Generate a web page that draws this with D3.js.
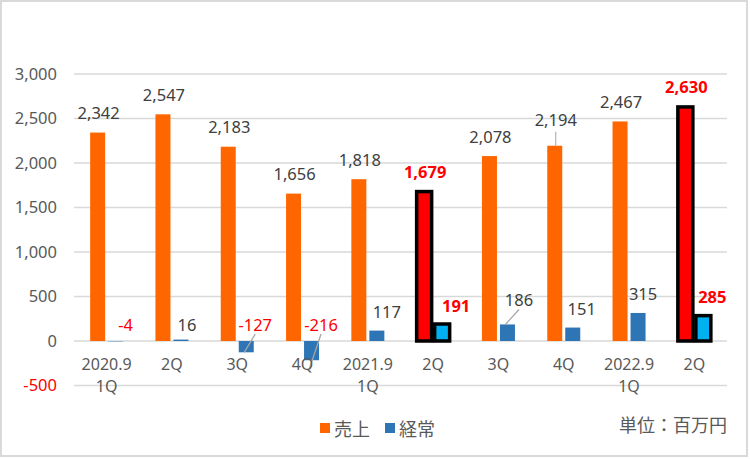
<!DOCTYPE html>
<html><head><meta charset="utf-8">
<script src="https://cdn.jsdelivr.net/npm/d3@7"></script>
<style>body{margin:0;background:#fff}svg{display:block}text{font-family:"Noto Sans","Noto Sans CJK JP",sans-serif}</style>
</head><body>
<svg id="c" width="750" height="459"></svg>
<script>
const categories = ["2020.9|1Q","2Q","3Q","4Q","2021.9|1Q","2Q","3Q","4Q","2022.9|1Q","2Q"];
const sales = [2342,2547,2183,1656,1818,1679,2078,2194,2467,2630];
const ordinary = [-4,16,-127,-216,117,191,186,151,315,285];
const highlight = [false,false,false,false,false,true,false,false,false,true];
const yTicks = [-500,0,500,1000,1500,2000,2500,3000];
const seriesNames = ["売上","経常"];

const fmt = v => d3.format(",")(v).replace("\u2212","-");
const FS = 16.5;

const svg = d3.select("#c");
svg.append("rect").attr("x",1).attr("y",1).attr("width",746).attr("height",455)
  .attr("fill","#fff").attr("stroke","#d9d9d9").attr("stroke-width",2);

const x = d3.scaleBand().domain(d3.range(categories.length)).range([74,727]);
const y = d3.scaleLinear().domain([-500,3000]).range([385.5,74]);

// grid
svg.append("g").selectAll("line").data(yTicks).join("line")
  .attr("x1",74).attr("x2",727).attr("y1",d=>y(d)).attr("y2",d=>y(d))
  .attr("stroke","#d9d9d9").attr("stroke-width",1.5);

// y labels
const yAxis = d3.axisLeft(y).tickValues(yTicks).tickFormat(fmt).tickSize(0).tickPadding(0);
const ya = svg.append("g").attr("transform","translate(57,0)").call(yAxis);
ya.select(".domain").remove();
ya.selectAll("text").attr("font-size",FS).attr("fill",d=>d<0?"#ff0000":"#595959")
  .style("font-family",'"Noto Sans",sans-serif');

const bw = 15, off = 9;
const cx = i => x(i) + x.bandwidth()/2;

// sales bars
svg.append("g").selectAll("rect").data(sales).join("rect")
  .attr("x",(d,i)=>cx(i)-off-bw/2).attr("width",bw)
  .attr("y",d=>y(d)).attr("height",d=>y(0)-y(d))
  .attr("fill",(d,i)=>highlight[i]?"#ff0000":"#ff6600")
  .attr("stroke",(d,i)=>highlight[i]?"#000":"none").attr("stroke-width",3.5);

// ordinary bars
svg.append("g").selectAll("rect").data(ordinary).join("rect")
  .attr("x",(d,i)=>cx(i)+off-bw/2).attr("width",bw)
  .attr("y",d=>y(Math.max(0,d))).attr("height",d=>Math.abs(y(0)-y(d)))
  .attr("fill",(d,i)=>highlight[i]?"#00b0f0":"#2e75b6")
  .attr("stroke",(d,i)=>highlight[i]?"#000":"none").attr("stroke-width",3.5);

// sales labels
svg.append("g").selectAll("text").data(sales).join("text")
  .attr("x",(d,i)=>cx(i)-off+1).attr("y",(d,i)=>y(d)-(i===7?26:20))
  .attr("text-anchor","middle").attr("dominant-baseline","central")
  .attr("font-size",FS).attr("font-weight",(d,i)=>highlight[i]?"bold":"normal")
  .attr("fill",(d,i)=>highlight[i]?"#ff0000":"#404040")
  .text(d=>fmt(d));
// leader for 4Q 2021 sales
svg.append("line").attr("x1",cx(7)-off+1).attr("x2",cx(7)-off+1)
  .attr("y1",y(sales[7])-14).attr("y2",y(sales[7])).attr("stroke","#a6a6a6").attr("stroke-width",1);

// ordinary label offsets (estimated from reference)
const ordDx = [10,6,9,9.5,10,14,11.5,9,5,9];
const ordLabelY = i => {
  const d = ordinary[i];
  if (d < 20) return y(0)-17;
  if (i===6) return y(d)-25;
  return y(d)-19;
};
svg.append("g").selectAll("text").data(ordinary).join("text")
  .attr("x",(d,i)=>cx(i)+off+ordDx[i]).attr("y",(d,i)=>ordLabelY(i))
  .attr("text-anchor","middle").attr("dominant-baseline","central")
  .attr("font-size",FS).attr("font-weight",(d,i)=>highlight[i]?"bold":"normal")
  .attr("fill",(d,i)=>(highlight[i]||d<0)?"#ff0000":"#404040")
  .text(d=>fmt(d));
// leader lines
[[2,0],[3,8],[6,0]].forEach(([i,extra])=>{
  const d = ordinary[i];
  const x0 = cx(i)+off+ordDx[i], y0 = ordLabelY(i)+10;
  const x1 = cx(i)+off-2, y1 = y(d)+extra;
  svg.append("line").attr("x1",x0).attr("y1",y0).attr("x2",x1).attr("y2",y1)
    .attr("stroke","#a6a6a6").attr("stroke-width",1.3);
});

// x labels
const xl = svg.append("g");
categories.forEach((c,i)=>{
  const parts = c.split("|");
  parts.forEach((p,k)=>{
    xl.append("text").attr("x",cx(i)).attr("y",364+k*22)
      .attr("text-anchor","middle").attr("dominant-baseline","central")
      .attr("font-size",16).attr("fill","#595959").text(p);
  });
});

// legend
const lg = svg.append("g");
[["#ff6600",320],["#2e75b6",385]].forEach(([col,lx],k)=>{
  lg.append("rect").attr("x",lx).attr("y",423).attr("width",10).attr("height",10).attr("fill",col);
  lg.append("text").attr("x",lx+14).attr("y",428).attr("dominant-baseline","central")
    .style("font-family",'"Noto Sans CJK JP",sans-serif')
    .attr("font-size",18).attr("fill","#595959").text(seriesNames[k]);
});
svg.append("text").attr("x",727).attr("y",424).attr("text-anchor","end").attr("dominant-baseline","central")
  .style("font-family",'"Noto Sans CJK JP",sans-serif')
  .attr("font-size",18).attr("fill","#595959").text("単位：百万円");
</script>
</body></html>
